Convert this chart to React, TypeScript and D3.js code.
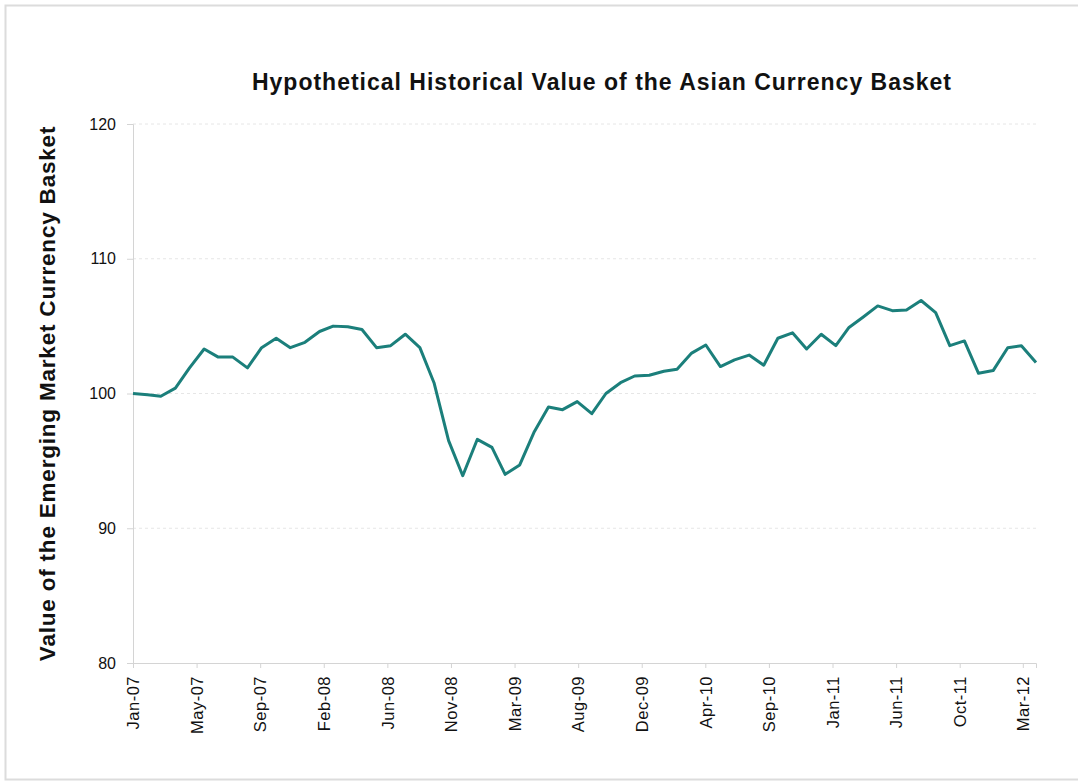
import React, { useEffect, useRef } from "react";
import * as d3 from "d3";

// monthly values, Jan-07 .. Apr-12
const startMonth = "2007-01-01";
const basketValues = [
  100.0, 99.9, 99.8, 100.4, 101.9, 103.3, 102.7, 102.7, 101.9, 103.4,
  104.1, 103.4, 103.8, 104.6, 105.0, 104.95, 104.75, 103.4, 103.55, 104.4,
  103.4, 100.8, 96.5, 93.9, 96.6, 96.0, 94.0, 94.7, 97.1, 99.0,
  98.8, 99.4, 98.5, 100.0, 100.8, 101.3, 101.35, 101.65, 101.8, 103.0,
  103.6, 102.0, 102.5, 102.85, 102.1, 104.1, 104.5, 103.3, 104.4, 103.55,
  104.9, 105.7, 106.5, 106.15, 106.2, 106.9, 106.0, 103.55, 103.9, 101.5,
  101.7, 103.4, 103.55, 102.3,
];

// excel date axis, a tick every 135 days
const tickDates = [
  "2007-01-01", "2007-05-16", "2007-09-28", "2008-02-10", "2008-06-24",
  "2008-11-06", "2009-03-21", "2009-08-03", "2009-12-16", "2010-04-30",
  "2010-09-12", "2011-01-25", "2011-06-09", "2011-10-22", "2012-03-04",
];
const yTicks = [80, 90, 100, 110, 120];

const parse = d3.utcParse("%Y-%m-%d");

const App: React.FC = () => {
  const svgRef = useRef<SVGSVGElement>(null);

  useEffect(() => {
    if (!svgRef.current) return;
    const svg = d3.select(svgRef.current);
    svg.selectAll("*").remove();

    const width = 1078;
    const height = 781;
    const left = 133;
    const right = 1036;
    const top = 124;
    const bottom = 663;
    const font = "'Liberation Sans', Arial, sans-serif";

    const start = parse(startMonth)!;
    const points = basketValues.map((v, i) => ({ date: d3.utcMonth.offset(start, i), value: v }));

    const x = d3
      .scaleUtc()
      .domain([start, points[points.length - 1].date])
      .range([left, right]);
    const y = d3.scaleLinear().domain([80, 120]).range([bottom, top]);

    // outer frame
    svg
      .append("rect")
      .attr("x", 5.5)
      .attr("y", 5.5)
      .attr("width", width + 10)
      .attr("height", height - 7)
      .attr("fill", "#fff")
      .attr("stroke", "#dcdcdc")
      .attr("stroke-width", 2);

    // grid
    svg
      .append("g")
      .selectAll("line")
      .data(yTicks.slice(1))
      .enter()
      .append("line")
      .attr("x1", left)
      .attr("x2", right)
      .attr("y1", (d) => y(d))
      .attr("y2", (d) => y(d))
      .attr("stroke", "#e6e6e6")
      .attr("stroke-dasharray", "3,3");

    // y axis
    const yAxis = svg
      .append("g")
      .attr("transform", `translate(${left},0)`)
      .call(d3.axisLeft(y).tickValues(yTicks).tickSize(6).tickPadding(11));
    yAxis.select(".domain").attr("stroke", "#d4d4d4");
    yAxis.selectAll(".tick line").attr("stroke", "#d4d4d4");
    yAxis
      .selectAll(".tick text")
      .attr("font-family", font)
      .attr("font-size", 16)
      .attr("fill", "#111");

    // x axis
    const xAxis = svg
      .append("g")
      .attr("transform", `translate(0,${bottom})`)
      .call(
        d3
          .axisBottom(x)
          .tickValues(tickDates.map((d) => parse(d)!))
          .tickFormat((d) => d3.utcFormat("%b-%y")(d as Date))
          .tickSize(5)
      );
    xAxis.select(".domain").attr("stroke", "#d4d4d4");
    xAxis.selectAll(".tick line").attr("stroke", "#d4d4d4");
    xAxis
      .selectAll(".tick text")
      .attr("font-family", font)
      .attr("font-size", 16.5)
      .attr("letter-spacing", 0.5)
      .attr("fill", "#111")
      .attr("transform", "rotate(-90)")
      .attr("text-anchor", "end")
      .attr("x", -13)
      .attr("y", 0)
      .attr("dy", "0.35em");

    // series line
    const line = d3
      .line<{ date: Date; value: number }>()
      .x((d) => x(d.date))
      .y((d) => y(d.value));
    svg
      .append("path")
      .datum(points)
      .attr("d", line)
      .attr("fill", "none")
      .attr("stroke", "#1b7f7b")
      .attr("stroke-width", 3)
      .attr("stroke-linejoin", "round");

    // title
    svg
      .append("text")
      .attr("x", 602)
      .attr("y", 90)
      .attr("text-anchor", "middle")
      .attr("font-family", font)
      .attr("font-weight", "bold")
      .attr("font-size", 23)
      .attr("letter-spacing", 1)
      .attr("fill", "#111")
      .text("Hypothetical Historical Value of the Asian Currency Basket");

    svg
      .append("text")
      .attr("transform", `translate(55,${(top + bottom) / 2}) rotate(-90)`)
      .attr("text-anchor", "middle")
      .attr("font-family", font)
      .attr("font-weight", "bold")
      .attr("font-size", 22.5)
      .attr("letter-spacing", 0.8)
      .attr("fill", "#111")
      .text("Value of the Emerging Market Currency Basket");
  }, []);

  return (
    <svg
      ref={svgRef}
      width={1078}
      height={781}
      style={{ position: "absolute", left: 0, top: 0, background: "#fff" }}
    />
  );
};

export default App;
